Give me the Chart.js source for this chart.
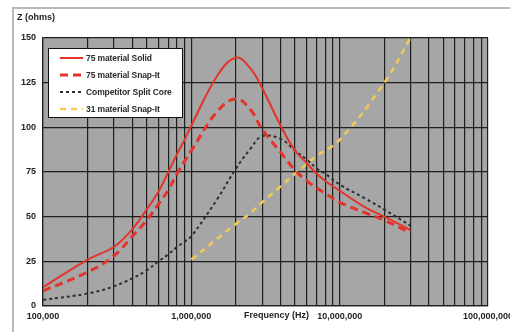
<!DOCTYPE html>
<html>
<head>
<meta charset="utf-8">
<script src="https://cdn.jsdelivr.net/npm/chart.js@4.4.1/dist/chart.umd.min.js"></script>
<style>
  html, body { margin: 0; padding: 0; background: #fff; overflow: hidden; width: 510px; height: 332px; }
  #frame { position: absolute; left: 12px; top: 7px; width: 600px; height: 400px; border: 2px solid #b8b8b8; box-sizing: border-box; }
  #wrap { position: absolute; left: 0; top: 0; width: 520px; height: 332px; }
  .lbl { position: absolute; font: bold 9px "Liberation Sans", Arial, sans-serif; color: #222; white-space: nowrap; }
  #legend { position: absolute; left: 48px; top: 48px; width: 135px; height: 70px; background: #fff; border: 1.5px solid #111; box-sizing: border-box; }
  #legend .row { position: absolute; left: 11px; height: 12px; display: flex; align-items: center; }
  #legend .row span { margin-left: 3px; font: bold 8.5px "Liberation Sans", Arial, sans-serif; letter-spacing: -0.1px; color: #2a2a2a; white-space: nowrap; }
</style>
</head>
<body>
<div id="frame"></div>
<div id="wrap"><canvas id="chart" width="520" height="332"></canvas></div>
<div class="lbl" style="left:17px; top:12px;">Z (ohms)</div>
<div class="lbl" style="left:244px; top:310px;">Frequency (Hz)</div>
<div id="legend"></div>
<script>
// frequencies (Hz)
const freqs = [1e5, 2e5, 3e5, 4e5, 5e5, 6e5, 7e5, 8e5, 9e5, 1e6, 1.5e6, 2e6, 2.5e6, 3e6, 4e6, 5e6, 6e6, 7e6, 8e6, 1e7, 1.5e7, 2e7, 3e7];
const solid75 = [10.5, 26, 33, 43, 54, 64, 75, 85, 93, 101, 129, 139, 133, 122, 101, 87, 80, 74, 70, 64.5, 55, 50, 42.5];
const snap75 = [8.5, 19, 28, 39, 48, 57, 65, 74, 81, 87, 109, 116, 110, 99, 86, 76, 70, 66, 63, 58, 52, 48, 41];
const competitor = [3.4, 7, 11, 15.5, 20, 25, 29, 33, 36, 39, 60, 77, 88, 95, 93.5, 87, 82, 77, 74, 68, 60, 54, 45];

const freqs31 = [1e6, 2e6, 2.5e6, 3e6, 4e6, 5e6, 7e6, 1e7, 2e7, 3e7];
const snap31 = [26, 46, 52, 58, 67, 74, 84, 93, 125, 150];

const seriesNames = ['75 material Solid', '75 material Snap-It', 'Competitor Split Core', '31 material Snap-It'];
const yTicks = [0, 25, 50, 75, 100, 125, 150];
const decades = [1e5, 1e6, 1e7];
const multipliers = [1, 2, 3, 4, 5, 6, 7, 8, 9];

const xTickValues = [];
decades.forEach(d => multipliers.forEach(m => xTickValues.push(d * m)));
xTickValues.push(1e8);

const pts = (xs, ys) => xs.map((x, i) => ({ x: x, y: ys[i] }));

const styles = [
  { color: '#e3342c', width: 2, dash: [] },
  { color: '#e3342c', width: 3, dash: [8, 5] },
  { color: '#2e2e2e', width: 2, dash: [3, 3] },
  { color: '#f3ca55', width: 2.5, dash: [6, 5] }
];
const dataSets = [pts(freqs, solid75), pts(freqs, snap75), pts(freqs, competitor), pts(freqs31, snap31)];

const plotBg = {
  id: 'plotBg',
  beforeDraw(chart) {
    const { ctx, chartArea: a } = chart;
    ctx.save();
    ctx.fillStyle = '#a6a6a6';
    ctx.fillRect(a.left, a.top, a.right - a.left, a.bottom - a.top);
    ctx.restore();
  }
};

const font = { family: '"Liberation Sans", Arial, sans-serif', size: 9, weight: 'bold' };

new Chart(document.getElementById('chart'), {
  type: 'line',
  data: {
    datasets: dataSets.map((d, i) => ({
      label: seriesNames[i],
      data: d,
      borderColor: styles[i].color,
      borderWidth: styles[i].width,
      borderDash: styles[i].dash,
      pointRadius: 0,
      fill: false,
      tension: 0.4
    }))
  },
  options: {
    responsive: false,
    animation: false,
    devicePixelRatio: 1,
    layout: { padding: { left: 0, top: 38, right: 32, bottom: 0 } },
    plugins: { legend: { display: false }, tooltip: { enabled: false } },
    scales: {
      x: {
        type: 'logarithmic',
        min: 1e5,
        max: 1e8,
        afterBuildTicks: s => { s.ticks = xTickValues.map(v => ({ value: v })); },
        afterFit: s => { s.height = 26; },
        grid: { color: '#1e1e1e', lineWidth: 1.2, drawTicks: false },
        border: { color: '#1e1e1e', width: 1.2 },
        ticks: {
          autoSkip: false,
          maxRotation: 0,
          padding: 5,
          color: '#222',
          font: font,
          callback: v => {
            const l = Math.log10(v);
            return Math.abs(l - Math.round(l)) < 1e-9 ? v.toLocaleString('en-US') : '';
          }
        }
      },
      y: {
        min: 0,
        max: 150,
        afterBuildTicks: s => { s.ticks = yTicks.map(v => ({ value: v })); },
        afterFit: s => { s.width = 43; },
        grid: { color: '#1e1e1e', lineWidth: 1.2, drawTicks: false },
        border: { color: '#1e1e1e', width: 1.2 },
        ticks: { padding: 7, color: '#222', font: font }
      }
    }
  },
  plugins: [plotBg]
});

// legend
const legend = document.getElementById('legend');
seriesNames.forEach((name, i) => {
  const row = document.createElement('div');
  row.className = 'row';
  row.style.top = (3 + i * 17) + 'px';
  const st = styles[i];
  row.innerHTML = '<svg width="23" height="6"><line x1="0" y1="3" x2="23" y2="3" stroke="' + st.color +
    '" stroke-width="' + st.width + '" stroke-dasharray="' + (st.dash.length ? st.dash.join(',') : 'none') + '"/></svg><span>' + name + '</span>';
  legend.appendChild(row);
});
</script>
</body>
</html>
